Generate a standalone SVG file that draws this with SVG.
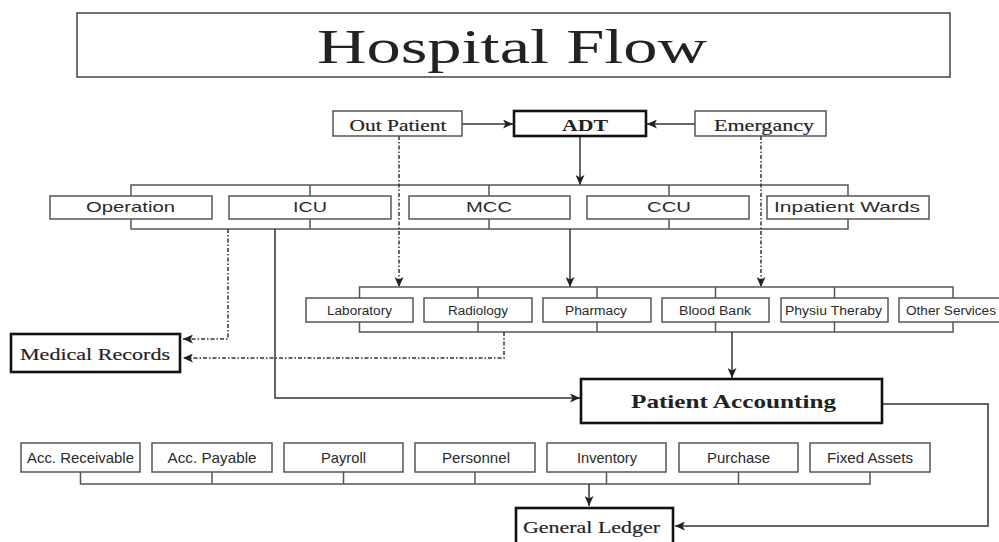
<svg xmlns="http://www.w3.org/2000/svg" width="999" height="542" viewBox="0 0 999 542">
<defs>
<marker id="ah" viewBox="0 0 10 9" markerWidth="10" markerHeight="9" markerUnits="userSpaceOnUse" refX="10" refY="4.5" orient="auto">
<path d="M0,0 L10,4.5 L0,9 L2.5,4.5 z" fill="#222"/>
</marker>
<style>
.bx{fill:#fff;stroke:#555;stroke-width:1.5}
.thk{fill:#fff;stroke:#111;stroke-width:2.6}
.ser{font-family:"Liberation Serif","Times New Roman",serif;fill:#222;text-anchor:middle}
.semi{stroke:#333;stroke-width:0.2}
.san{font-family:"Liberation Sans",Arial,sans-serif;fill:#2a2a2a;text-anchor:middle}
.ln{fill:none;stroke:#333;stroke-width:1.5}
.dd{fill:none;stroke:#333;stroke-width:1.5;stroke-dasharray:4,2,1.5,2}
.br{fill:none;stroke:#555;stroke-width:1.5}
</style>
</defs>
<rect width="999" height="542" fill="#fff"/>

<g id="title">
<rect x="77" y="13" width="873" height="64" fill="#fff" stroke="#444" stroke-width="1.5"/>
<text class="ser" x="512" y="63" font-size="48" textLength="390" lengthAdjust="spacingAndGlyphs" fill="#111">Hospital Flow</text>
</g>

<g id="connectors">
<line class="ln" x1="462" y1="124" x2="513" y2="124" marker-end="url(#ah)"/>
<line class="ln" x1="695" y1="124" x2="647" y2="124" marker-end="url(#ah)"/>
<line class="ln" x1="580" y1="137" x2="580" y2="185" marker-end="url(#ah)"/>
<path class="br" d="M131,196 V185 H848 V196 M310,185 V196 M489,185 V196 M669,185 V196"/>
<path class="br" d="M131,219 V229 H848 V219 M310,219 V229 M489,219 V229 M669,219 V229"/>
<line class="dd" x1="399" y1="136" x2="399" y2="287" marker-end="url(#ah)"/>
<line class="dd" x1="761" y1="136" x2="761" y2="287" marker-end="url(#ah)"/>
<line class="ln" x1="570" y1="229" x2="570" y2="287" marker-end="url(#ah)"/>
<path class="br" d="M359.5,298 V287 H953 V298 M478,287 V298 M597,287 V298 M715.5,287 V298 M834.5,287 V298"/>
<path class="br" d="M359.5,322 V332 H953 V322 M478,322 V332 M597,322 V332 M715.5,322 V332 M834.5,322 V332"/>
<path class="dd" d="M228,229 V339 H183" marker-end="url(#ah)"/>
<path class="dd" d="M504,332 V358 H183" marker-end="url(#ah)"/>
<path class="ln" d="M275,229 V398 H580" marker-end="url(#ah)"/>
<line class="ln" x1="732" y1="332" x2="732" y2="378" marker-end="url(#ah)"/>
<path class="ln" d="M882,404 H988 V526 H675" marker-end="url(#ah)"/>
<path class="br" d="M80.5,472 V484 H870 V472 M212,472 V484 M343.5,472 V484 M475,472 V484 M606.5,472 V484 M738.5,472 V484"/>
<line class="ln" x1="589" y1="484" x2="589" y2="506" marker-end="url(#ah)"/>
</g>

<g id="out-patient"><rect class="bx" x="333" y="111" width="129" height="25"/><text class="ser semi" x="398" y="131" font-size="16" textLength="97" lengthAdjust="spacingAndGlyphs">Out Patient</text></g>
<g id="adt"><rect class="thk" x="514" y="111" width="132" height="25"/><text class="ser" x="585" y="131" font-size="16" font-weight="bold" textLength="46" lengthAdjust="spacingAndGlyphs">ADT</text></g>
<g id="emergancy"><rect class="bx" x="695" y="111" width="131" height="25"/><text class="ser semi" x="764" y="131" font-size="16" textLength="100" lengthAdjust="spacingAndGlyphs">Emergancy</text></g>

<g id="operation"><rect class="bx" x="50" y="196" width="162" height="23"/><text class="san" x="130.5" y="212" font-size="15" textLength="89" lengthAdjust="spacingAndGlyphs">Operation</text></g>
<g id="icu"><rect class="bx" x="229" y="196" width="162" height="23"/><text class="san" x="310" y="212" font-size="15" textLength="34" lengthAdjust="spacingAndGlyphs">ICU</text></g>
<g id="mcc"><rect class="bx" x="409" y="196" width="161" height="23"/><text class="san" x="489" y="212" font-size="15" textLength="46" lengthAdjust="spacingAndGlyphs">MCC</text></g>
<g id="ccu"><rect class="bx" x="587" y="196" width="162" height="23"/><text class="san" x="669" y="212" font-size="15" textLength="44" lengthAdjust="spacingAndGlyphs">CCU</text></g>
<g id="inpatient-wards"><rect class="bx" x="767" y="196" width="162" height="23"/><text class="san" x="847" y="212" font-size="15" textLength="146" lengthAdjust="spacingAndGlyphs">Inpatient Wards</text></g>

<g id="laboratory"><rect class="bx" x="306" y="298" width="107" height="24"/><text class="san" x="359.5" y="314.5" font-size="12.5" textLength="65" lengthAdjust="spacingAndGlyphs">Laboratory</text></g>
<g id="radiology"><rect class="bx" x="424" y="298" width="108" height="24"/><text class="san" x="478" y="314.5" font-size="12.5" textLength="60" lengthAdjust="spacingAndGlyphs">Radiology</text></g>
<g id="pharmacy"><rect class="bx" x="543" y="298" width="108" height="24"/><text class="san" x="596" y="314.5" font-size="12.5" textLength="62" lengthAdjust="spacingAndGlyphs">Pharmacy</text></g>
<g id="blood-bank"><rect class="bx" x="662" y="298" width="107" height="24"/><text class="san" x="715" y="314.5" font-size="12.5" textLength="72" lengthAdjust="spacingAndGlyphs">Blood Bank</text></g>
<g id="physiu-theraby"><rect class="bx" x="781" y="298" width="107" height="24"/><text class="san" x="833.5" y="314.5" font-size="12.5" textLength="97" lengthAdjust="spacingAndGlyphs">Physiu Theraby</text></g>
<g id="other-services"><rect class="bx" x="899" y="298" width="108" height="24"/><text class="san" x="951" y="314.5" font-size="12.5" textLength="90" lengthAdjust="spacingAndGlyphs">Other Services</text></g>

<g id="medical-records"><rect class="thk" x="11" y="334" width="169" height="38"/><text class="ser semi" x="95" y="360" font-size="17" textLength="150" lengthAdjust="spacingAndGlyphs">Medical Records</text></g>
<g id="patient-accounting"><rect class="thk" x="581" y="379" width="301" height="44"/><text class="ser" x="733.5" y="408" font-size="19" font-weight="bold" textLength="205" lengthAdjust="spacingAndGlyphs">Patient Accounting</text></g>

<g id="acc-receivable"><rect class="bx" x="21" y="443" width="119" height="29"/><text class="san" x="80.5" y="463" font-size="15" textLength="107" lengthAdjust="spacingAndGlyphs">Acc. Receivable</text></g>
<g id="acc-payable"><rect class="bx" x="152" y="443" width="120" height="29"/><text class="san" x="212" y="463" font-size="15" textLength="89" lengthAdjust="spacingAndGlyphs">Acc. Payable</text></g>
<g id="payroll"><rect class="bx" x="284" y="443" width="119" height="29"/><text class="san" x="343.5" y="463" font-size="15" textLength="45" lengthAdjust="spacingAndGlyphs">Payroll</text></g>
<g id="personnel"><rect class="bx" x="415" y="443" width="120" height="29"/><text class="san" x="476" y="463" font-size="15" textLength="68" lengthAdjust="spacingAndGlyphs">Personnel</text></g>
<g id="inventory"><rect class="bx" x="547" y="443" width="119" height="29"/><text class="san" x="607" y="463" font-size="15" textLength="60" lengthAdjust="spacingAndGlyphs">Inventory</text></g>
<g id="purchase"><rect class="bx" x="679" y="443" width="119" height="29"/><text class="san" x="738.5" y="463" font-size="15" textLength="63" lengthAdjust="spacingAndGlyphs">Purchase</text></g>
<g id="fixed-assets"><rect class="bx" x="810" y="443" width="120" height="29"/><text class="san" x="870" y="463" font-size="15" textLength="86" lengthAdjust="spacingAndGlyphs">Fixed Assets</text></g>

<g id="general-ledger"><rect class="thk" x="516" y="508" width="157" height="40"/><text class="ser semi" x="591.5" y="533" font-size="17" textLength="137" lengthAdjust="spacingAndGlyphs">General Ledger</text></g>
</svg>
